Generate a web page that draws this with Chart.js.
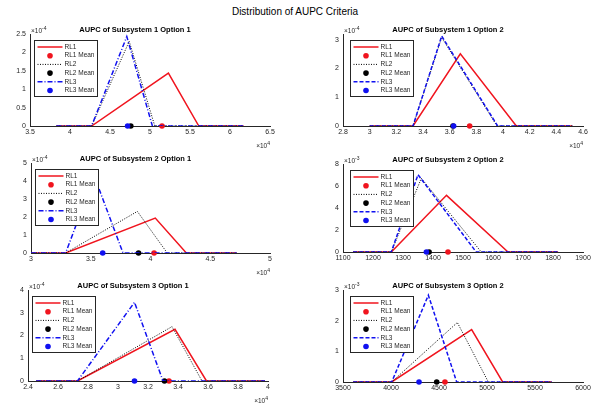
<!DOCTYPE html>
<html><head><meta charset="utf-8">
<script src="https://cdn.jsdelivr.net/npm/chart.js@4"></script>
<style>
html,body{margin:0;padding:0;background:#fff;width:598px;height:403px;overflow:hidden;font-family:"Liberation Sans",Arial,sans-serif}
#supTitle{position:absolute;left:0;width:590px;top:6px;text-align:center;font-size:10px;color:#000;line-height:12px}
canvas{position:absolute}
</style></head><body>
<div id="supTitle">Distribution of AUPC Criteria</div>
<script>
// ---------- DATA (x in units of xExp, y in units of yExp) ----------
const titles = ['AUPC of Subsystem 1 Option 1','AUPC of Subsystem 1 Option 2',
                'AUPC of Subsystem 2 Option 1','AUPC of Subsystem 2 Option 2',
                'AUPC of Subsystem 3 Option 1','AUPC of Subsystem 3 Option 2'];
const seriesNames = ['RL1','RL2','RL3'];
const xExp = [4, 4, 4, 0, 4, 0];
const yExp = [-4, -4, -4, -3, -4, -3];
const xRanges = [[3.5,6.5],[2.8,4.6],[3,5],[1100,1900],[2.4,4],[3500,6000]];
const yRanges = [[0,2.5],[0,3.2],[0,5],[0,8],[0,4],[0,3]];
const xTicks = [[3.5,4,4.5,5,5.5,6,6.5],
                [2.8,3,3.2,3.4,3.6,3.8,4,4.2,4.4,4.6],
                [3,3.5,4,4.5,5],
                [1100,1200,1300,1400,1500,1600,1700,1800,1900],
                [2.4,2.6,2.8,3,3.2,3.4,3.6,3.8,4],
                [3500,4000,4500,5000,5500,6000]];
const yTicks = [[0,0.5,1,1.5,2,2.5],[0,1,2,3],[0,1,2,3,4,5],[0,2,4,6,8],[0,1,2,3,4],[0,1,2,3]];
// density curves: per subplot, per series (RL1, RL2, RL3)
const curveX = [
  [[3.83,4.27,5.23,5.61,6.17],[3.83,4.27,4.74,5.06,6.17],[3.83,4.27,4.71,5.03,6.17]],
  [[3.0,3.325,3.68,4.10,4.52],[3.0,3.325,3.54,3.955,4.52],[3.0,3.325,3.54,3.96,4.52]],
  [[3.0,3.29,4.04,4.30,4.72],[3.0,3.29,3.89,4.14,4.72],[3.0,3.29,3.53,3.77,4.72]],
  [[1134,1261,1445,1650,1817],[1134,1261,1361,1561,1817],[1134,1261,1350,1544,1817]],
  [[2.455,2.73,3.38,3.59,3.98],[2.455,2.73,3.36,3.56,3.98],[2.455,2.73,3.11,3.30,3.98]],
  [[3607,4007,4840,5163,5674],[3607,4007,4691,5014,5674],[3607,4007,4389,4684,5674]]
];
const curveY = [
  [[0,0,1.44,0,0],[0,0,2.30,0,0],[0,0,2.43,0,0]],
  [[0,0,2.51,0,0],[0,0,3.08,0,0],[0,0,3.13,0,0]],
  [[0,0,1.94,0,0],[0,0,2.31,0,0],[0,0,4.26,0,0]],
  [[0,0,5.15,0,0],[0,0,6.70,0,0],[0,0,7.03,0,0]],
  [[0,0,2.27,0,0],[0,0,2.39,0,0],[0,0,3.46,0,0]],
  [[0,0,1.71,0,0],[0,0,1.94,0,0],[0,0,2.83,0,0]]
];
const meanX = [[5.15,4.76,4.72],[3.75,3.625,3.63],[4.03,3.90,3.60],
               [1450,1387,1378],[3.34,3.31,3.11],[4562,4476,4292]];

// ---------- STYLE / LAYOUT ----------
const FONT = '"Liberation Sans", Arial, sans-serif';
const colors = ['#f0141e','#000000','#1010f0'];
const widths = [1.5, 1, 1.5];
const dashLeft = [[], [1,1.5], [5,2,1,2]];
const dashRight = [[], [1,1.5], [4,2]];
const areas = [[30,33.5,270,126],[343,33.5,583,126],[31,163,270,253],
               [343,164,583,252],[28,290,268,381],[343,290,583,382]];
const YW = 30, XH = 24, TITLE_H = 13, RP = 15;

function fmt(v){ return String(Math.round(v*1000)/1000); }

const extras = {
  id: 'extras',
  afterDatasetsDraw(chart, args, o) {
    const ctx = chart.ctx, a = chart.chartArea;
    ctx.save();
    // legend box
    const lx = Math.round(a.left + o.legX) + 0.5, ly = Math.round(a.top + 6) + 0.5;
    const w = 63, h = 56, rowH = 8.7;
    ctx.fillStyle = '#fff';
    ctx.fillRect(lx, ly, w, h);
    ctx.strokeStyle = '#262626'; ctx.lineWidth = 1; ctx.setLineDash([]);
    ctx.strokeRect(lx, ly, w, h);
    chart.data.datasets.forEach((ds, j) => {
      const y = ly + 6.5 + j * rowH;
      if (ds.showLine) {
        ctx.beginPath();
        ctx.setLineDash(ds.borderDash || []);
        ctx.strokeStyle = ds.borderColor; ctx.lineWidth = ds.borderWidth;
        ctx.moveTo(lx + 3, y); ctx.lineTo(lx + 28, y); ctx.stroke();
      } else {
        ctx.beginPath(); ctx.fillStyle = ds.backgroundColor;
        ctx.arc(lx + 15.5, y, 2.8, 0, Math.PI * 2); ctx.fill();
      }
      ctx.setLineDash([]);
      ctx.fillStyle = '#262626'; ctx.font = '6.5px ' + FONT;
      ctx.textBaseline = 'middle'; ctx.textAlign = 'left';
      ctx.fillText(ds.label, lx + 30, y);
    });
    // exponent labels
    ctx.fillStyle = '#262626'; ctx.textBaseline = 'alphabetic';
    if (o.yExp) {
      ctx.textAlign = 'left'; ctx.font = '6.5px ' + FONT;
      const base = a.top - 1.5;
      ctx.fillText('\u00d710', a.left + 1, base);
      const bw = ctx.measureText('\u00d710').width;
      ctx.font = '5px ' + FONT;
      ctx.fillText(String(o.yExp), a.left + 1 + bw, base - 3);
    }
    if (o.xExp) {
      ctx.font = '5px ' + FONT;
      const sup = String(o.xExp), sw = ctx.measureText(sup).width;
      ctx.textAlign = 'right';
      const base = a.bottom + 22;
      ctx.fillText(sup, a.right, base - 3);
      ctx.font = '6.5px ' + FONT;
      ctx.fillText('\u00d710', a.right - sw, base);
    }
    ctx.restore();
  }
};

for (let i = 0; i < 6; i++) {
  const [al, at, ar, ab] = areas[i];
  const left = al - YW, top = at - TITLE_H;
  const W = (ar - al) + YW + RP, H = TITLE_H + (ab - at) + XH;
  const cv = document.createElement('canvas');
  cv.width = W; cv.height = H;
  cv.style.left = left + 'px'; cv.style.top = top + 'px';
  cv.style.width = W + 'px'; cv.style.height = H + 'px';
  document.body.appendChild(cv);
  const dashes = (i % 2 === 0) ? dashLeft : dashRight;
  const datasets = [];
  for (let s = 0; s < 3; s++) {
    datasets.push({
      label: seriesNames[s],
      data: curveX[i][s].map((x, k) => ({x: x, y: curveY[i][s][k]})),
      showLine: true, borderColor: colors[s], backgroundColor: colors[s],
      borderWidth: widths[s], borderDash: dashes[s], pointRadius: 0,
      tension: 0, fill: false, order: 5 - 2 * s
    });
    datasets.push({
      label: seriesNames[s] + ' Mean',
      data: [{x: meanX[i][s], y: 0}],
      showLine: false, backgroundColor: colors[s], borderColor: colors[s],
      pointRadius: 2.8, pointBorderWidth: 0, clip: false, order: 4 - 2 * s
    });
  }
  const axisCommon = (ticksArr) => ({
    type: 'linear',
    grid: {display: false, drawTicks: false},
    border: {display: true, color: '#262626', width: 1},
    ticks: {font: {size: 7, family: FONT}, color: '#262626', autoSkip: false,
            maxRotation: 0, callback: (v) => fmt(v)},
    afterBuildTicks: (sc) => { sc.ticks = ticksArr.map(v => ({value: v})); }
  });
  const xs = axisCommon(xTicks[i]);
  xs.min = xRanges[i][0]; xs.max = xRanges[i][1];
  xs.ticks.padding = 2;
  xs.afterFit = (sc) => { sc.height = XH; };
  const ys = axisCommon(yTicks[i]);
  ys.min = yRanges[i][0]; ys.max = yRanges[i][1];
  ys.ticks.padding = 4;
  ys.afterFit = (sc) => { sc.width = YW; };
  new Chart(cv, {
    type: 'scatter',
    data: {datasets: datasets},
    plugins: [extras],
    options: {
      responsive: false, animation: false, devicePixelRatio: 1,
      layout: {padding: {left: 0, right: RP, top: 0, bottom: 0}},
      scales: {x: xs, y: ys},
      plugins: {
        legend: {display: false}, tooltip: {enabled: false},
        title: {display: true, text: titles[i], color: '#000',
                font: {size: 7.5, weight: 'bold', family: FONT, lineHeight: 1.2},
                padding: {top: 4, bottom: 0}},
        extras: {legX: (i % 2 === 0) ? 4 : 7, yExp: yExp[i], xExp: xExp[i]}
      }
    }
  });
}
</script>
</body></html>
